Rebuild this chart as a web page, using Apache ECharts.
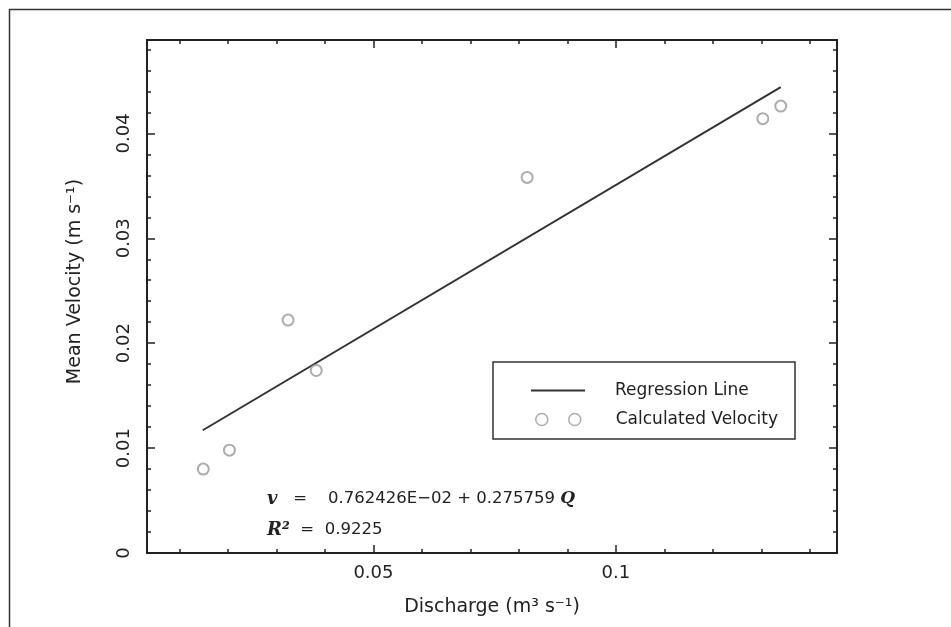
<!DOCTYPE html>
<html>
<head>
<meta charset="utf-8">
<script src="https://cdn.jsdelivr.net/npm/echarts@6/dist/echarts.min.js"></script>
<style>
html,body{margin:0;padding:0;background:#fff;}
#chart{width:951px;height:627px;}
</style>
</head>
<body>
<div id="chart"></div>
<script>
// ---- data ----
const Q_DISCHARGE = [0.0149, 0.0203, 0.0324, 0.0382, 0.0817, 0.1303, 0.1340];
const V_VELOCITY  = [0.0080, 0.0098, 0.0222, 0.0174, 0.0358, 0.0414, 0.0426];
const REG_LINE_Q = [0.0148, 0.1340];
const REG_LINE_V = [0.0117, 0.0444];

const X_MIN = 0.0033, X_MAX = 0.1456;
const Y_MIN = 0, Y_MAX = 0.0489;
const X_MAJOR = [0.05, 0.1];
const X_MINOR = [0.01, 0.02, 0.03, 0.04, 0.06, 0.07, 0.08, 0.09, 0.11, 0.12, 0.13, 0.14];
const Y_MAJOR = [0, 0.01, 0.02, 0.03, 0.04];
const Y_MINOR = [0.002, 0.004, 0.006, 0.008, 0.012, 0.014, 0.016, 0.018, 0.022, 0.024, 0.026, 0.028,
                 0.032, 0.034, 0.036, 0.038, 0.042, 0.044, 0.046, 0.048];
const X_LABELS = ['0.05', '0.1'];
const Y_LABELS = ['0', '0.01', '0.02', '0.03', '0.04'];

const FONT = 'DejaVu Sans';
const AX = '#222';

function xAx(pos, major, withLine, withLabel) {
  return {
    type: 'value', position: pos, min: X_MIN, max: X_MAX,
    axisLine: { show: withLine, onZero: false, lineStyle: { color: AX, width: 2 } },
    axisTick: { show: true, inside: true, length: major ? 8 : 4, customValues: major ? X_MAJOR : X_MINOR,
                lineStyle: { color: AX, width: 1.5 } },
    axisLabel: withLabel ? { show: true, customValues: X_MAJOR, margin: 11, color: '#222',
                fontFamily: FONT, fontSize: 18,
                formatter: v => X_LABELS[X_MAJOR.findIndex(m => Math.abs(m - v) < 1e-9)] } : { show: false },
    splitLine: { show: false }
  };
}
function yAx(pos, major, withLine, withLabel) {
  return {
    type: 'value', position: pos, min: Y_MIN, max: Y_MAX,
    axisLine: { show: withLine, onZero: false, lineStyle: { color: AX, width: 2 } },
    axisTick: { show: true, inside: true, length: major ? 8 : 4, customValues: major ? Y_MAJOR : Y_MINOR,
                lineStyle: { color: AX, width: 1.5 } },
    axisLabel: withLabel ? { show: true, customValues: Y_MAJOR, margin: 14, rotate: 90, color: '#222',
                fontFamily: FONT, fontSize: 18,
                formatter: v => Y_LABELS[Y_MAJOR.findIndex(m => Math.abs(m - v) < 1e-9)] } : { show: false },
    splitLine: { show: false }
  };
}

const xBottom = xAx('bottom', true, true, true);
xBottom.name = 'Discharge (m³ s⁻¹)';
xBottom.nameLocation = 'middle';
xBottom.nameGap = 45;
xBottom.nameTextStyle = { fontFamily: FONT, fontSize: 19, color: '#222' };

const yLeft = yAx('left', true, true, true);
yLeft.name = 'Mean Velocity (m s⁻¹)';
yLeft.nameLocation = 'middle';
yLeft.nameGap = 62;
yLeft.nameTextStyle = { fontFamily: FONT, fontSize: 19, color: '#222', padding: [0, 0, 0, 30] };

const scatterData = Q_DISCHARGE.map((q, i) => [q, V_VELOCITY[i]]);
const lineData = REG_LINE_Q.map((q, i) => [q, REG_LINE_V[i]]);

const chart = echarts.init(document.getElementById('chart'));
chart.setOption({
  animation: false,
  backgroundColor: '#fff',
  grid: { left: 147, right: 114, top: 40, bottom: 74, containLabel: false },
  xAxis: [xBottom, xAx('bottom', false, false, false), xAx('top', true, true, false), xAx('top', false, false, false)],
  yAxis: [yLeft, yAx('left', false, false, false), yAx('right', true, true, false), yAx('right', false, false, false)],
  legend: [
    {
      left: 531, top: 382, padding: 0, orient: 'vertical',
      itemWidth: 54, itemHeight: 2,
      data: [{ name: 'Regression Line', icon: 'rect', itemStyle: { color: '#333', borderWidth: 0 } }],
      textStyle: { fontFamily: FONT, fontSize: 17, color: '#222', padding: [0, 0, 0, 25] },
      selectedMode: false
    },
    {
      left: 535, top: 411, padding: 0, orient: 'vertical',
      itemWidth: 45, itemHeight: 12,
      data: [{ name: 'Calculated Velocity',
               icon: 'path://M0,6 a6,6 0 1,0 12,0 a6,6 0 1,0 -12,0 Z M33,6 a6,6 0 1,0 12,0 a6,6 0 1,0 -12,0 Z',
               itemStyle: { color: 'rgba(0,0,0,0)', borderColor: '#999', borderWidth: 1.5 } }],
      textStyle: { fontFamily: FONT, fontSize: 17, color: '#222', padding: [0, 0, 0, 30] },
      selectedMode: false
    }
  ],
  series: [
    {
      name: 'Regression Line', type: 'line', data: lineData,
      xAxisIndex: 0, yAxisIndex: 0, symbol: 'none',
      lineStyle: { color: '#333', width: 2 }, itemStyle: { color: '#333' }, z: 3
    },
    {
      name: 'Calculated Velocity', type: 'scatter', data: scatterData,
      xAxisIndex: 0, yAxisIndex: 0, symbol: 'emptyCircle', symbolSize: 11,
      itemStyle: { color: '#999', borderColor: '#999', borderWidth: 1.5 }, z: 4
    }
  ],
  graphic: [
    { type: 'rect', silent: true, shape: { x: 9.5, y: 9.5, width: 1000, height: 700 },
      style: { fill: 'none', stroke: '#333', lineWidth: 1.5 } },
    { type: 'rect', silent: true, shape: { x: 493, y: 362, width: 302, height: 77 },
      style: { fill: 'none', stroke: '#333', lineWidth: 1.5 } },
    { type: 'text', silent: true, x: 267, y: 499,
      style: { text: '{i|v}   =    0.762426E−02 + 0.275759 {q|Q}', fontFamily: FONT, fontSize: 16.5,
               fill: '#222', verticalAlign: 'middle',
               rich: { i: { fontFamily: 'DejaVu Serif', fontStyle: 'italic', fontWeight: 'bold', fontSize: 18, fill: '#222' },
                       q: { fontFamily: 'DejaVu Serif', fontStyle: 'italic', fontWeight: 'bold', fontSize: 17, fill: '#222' } } } },
    { type: 'text', silent: true, x: 267, y: 530,
      style: { text: '{i|R²}  =  0.9225', fontFamily: FONT, fontSize: 16.5, fill: '#222', verticalAlign: 'middle',
               rich: { i: { fontFamily: 'DejaVu Serif', fontStyle: 'italic', fontWeight: 'bold', fontSize: 18, fill: '#222' } } } }
  ]
});
</script>
</body>
</html>
